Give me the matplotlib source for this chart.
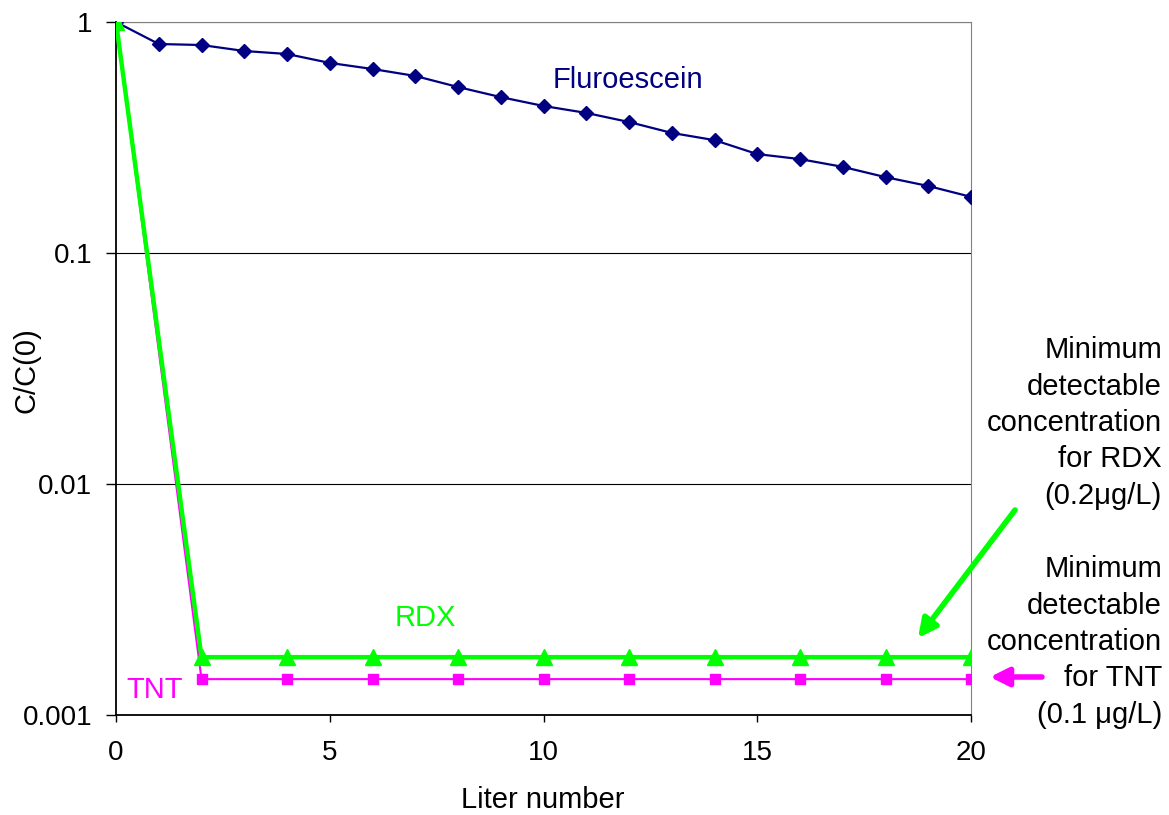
import numpy as np
import matplotlib
matplotlib.use("Agg")
import matplotlib.pyplot as plt

plt.rcParams['font.family'] = ['Liberation Sans', 'DejaVu Sans']

# data
liters_fl = np.arange(0, 21)
fluorescein = [1.0, 0.803, 0.795, 0.749, 0.727, 0.665, 0.626, 0.584, 0.523, 0.473, 0.433,
               0.404, 0.369, 0.331, 0.308, 0.268, 0.255, 0.236, 0.213, 0.195, 0.175]
liters_ex = np.arange(0, 21, 2)
rdx = [1.0] + [0.00178] * 10
tnt = [1.0] + [0.00143] * 10

W, H = 1169, 815


def fx(px):
    return px / W


def fy(py):
    return 1 - py / H


fig = plt.figure(figsize=(11.69, 8.15), dpi=100)
ax = fig.add_axes([fx(116), fy(715), fx(971) - fx(116), fy(22) - fy(715)])

ax.plot(liters_fl, fluorescein, color='#000080', lw=1.6, marker='D', ms=7, zorder=3)
ax.plot(liters_ex, tnt, color='#FF00FF', lw=1.5, marker='s', ms=7, zorder=4)
ax.plot(liters_ex, rdx, color='#00FF00', lw=3.2, marker='^', ms=11, zorder=5)

ax.set_yscale('log')
ax.set_ylim(0.001, 1)
ax.set_xlim(0, 20)
ax.set_xticks([0, 5, 10, 15, 20])
ax.set_yticks([0.001, 0.01, 0.1, 1])
ax.set_yticklabels(['0.001', '0.01', '0.1', '1'])
ax.minorticks_off()
ax.yaxis.grid(True, color='black', lw=0.8)
ax.tick_params(labelsize=20, direction='out', width=1)
ax.tick_params(axis='x', length=5, pad=13)
ax.tick_params(axis='y', length=7, pad=10)
for s in ['top', 'right']:
    ax.spines[s].set_color('#808080')
for s in ['left', 'bottom']:
    ax.spines[s].set_linewidth(1.3)

fig.text(fx(543), fy(800), 'Liter number', fontsize=21, ha='center', va='center')
fig.text(fx(27), fy(370), 'C/C(0)', fontsize=21, ha='center', va='center', rotation=90)

fig.text(fx(628), fy(80), 'Fluroescein', fontsize=21, color='#000080',
         ha='center', va='center')
fig.text(fx(425), fy(618), 'RDX', fontsize=21, color='#00FF00', ha='center', va='center')
fig.text(fx(155), fy(690), 'TNT', fontsize=21, color='#FF00FF', ha='center', va='center')

fig.text(fx(1162), fy(423),
         'Minimum\ndetectable\nconcentration\nfor RDX\n(0.2\u03bcg/L)',
         ha='right', va='center', fontsize=21, linespacing=1.38)
fig.text(fx(1162), fy(642),
         'Minimum\ndetectable\nconcentration\nfor TNT\n(0.1 \u03bcg/L)',
         ha='right', va='center', fontsize=21, linespacing=1.38)

ax.annotate('', xy=(fx(918), fy(638)), xytext=(fx(1015), fy(510)),
            xycoords='figure fraction', textcoords='figure fraction',
            arrowprops=dict(arrowstyle='-|>,head_length=1.1,head_width=0.55',
                            color='#00FF00', lw=4, shrinkA=0, shrinkB=0),
            annotation_clip=False)
ax.annotate('', xy=(fx(990), fy(677)), xytext=(fx(1042), fy(677)),
            xycoords='figure fraction', textcoords='figure fraction',
            arrowprops=dict(arrowstyle='-|>,head_length=1.1,head_width=0.55',
                            color='#FF00FF', lw=4, shrinkA=0, shrinkB=0),
            annotation_clip=False)

fig.savefig('out.png', dpi=100)
